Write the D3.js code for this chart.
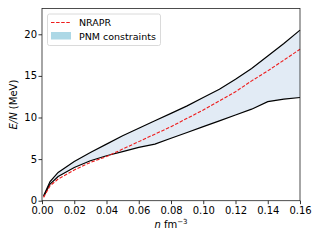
<!DOCTYPE html>
<html>
<head>
<meta charset="utf-8">
<script src="https://cdn.jsdelivr.net/npm/d3@7"></script>
<style>
  body { margin: 0; background: #fff; }
  text { font-family: "DejaVu Sans", sans-serif; }
</style>
</head>
<body>
<div id="chart"></div>
<script>
// density grid (fm^-3) and energies per neutron (MeV)
const density = [0.001, 0.005, 0.01, 0.02, 0.03, 0.04, 0.05, 0.06, 0.07, 0.08, 0.09, 0.10, 0.11, 0.12, 0.13, 0.14, 0.15, 0.16];
const upper = [0.6, 2.3, 3.4, 4.7, 5.8, 6.8, 7.8, 8.7, 9.6, 10.5, 11.4, 12.4, 13.4, 14.6, 15.9, 17.4, 18.9, 20.5];
const lower = [0.5, 2.0, 2.9, 4.0, 4.8, 5.4, 5.9, 6.4, 6.8, 7.5, 8.2, 8.9, 9.6, 10.3, 11.0, 11.9, 12.2, 12.4];
const nrapr = [0.4, 1.8, 2.6, 3.7, 4.6, 5.3, 6.2, 7.1, 8.0, 8.9, 9.9, 10.9, 12.0, 13.1, 14.4, 15.6, 16.9, 18.2];
const xTicks = [0, 0.02, 0.04, 0.06, 0.08, 0.10, 0.12, 0.14, 0.16];
const yTicks = [0, 5, 10, 15, 20];

const W = 320, H = 240;
const M = { left: 42, right: 20, top: 8.5, bottom: 39.3 };

const svg = d3.select('#chart').append('svg')
    .attr('width', W)
    .attr('height', H);

const x = d3.scaleLinear().domain([0, 0.16]).range([M.left, W - M.right]);
const y = d3.scaleLinear().domain([0, 23.1]).range([H - M.bottom, M.top]);

const pts = density.map((n, i) => ({ n: n, lo: lower[i], hi: upper[i], model: nrapr[i] }));

// band between the constraints
svg.append('path')
    .datum(pts)
    .attr('fill', '#e2ebf5')
    .attr('d', d3.area().x(d => x(d.n)).y0(d => y(d.lo)).y1(d => y(d.hi)));

const line = key => d3.line().x(d => x(d.n)).y(d => y(d[key]));

svg.append('path').datum(pts)
    .attr('fill', 'none').attr('stroke', '#000').attr('stroke-width', 1.2)
    .attr('d', line('hi'));
svg.append('path').datum(pts)
    .attr('fill', 'none').attr('stroke', '#000').attr('stroke-width', 1.2)
    .attr('d', line('lo'));
svg.append('path').datum(pts)
    .attr('fill', 'none').attr('stroke', '#ee1c1c').attr('stroke-width', 1.1)
    .attr('stroke-dasharray', '3.5,1.6')
    .attr('d', line('model'));

// axes
const xAxis = svg.append('g')
    .attr('transform', `translate(0,${H - M.bottom})`)
    .call(d3.axisBottom(x).tickValues(xTicks).tickFormat(d3.format('.2f')).tickSizeOuter(0).tickSize(3.5));
const yAxis = svg.append('g')
    .attr('transform', `translate(${M.left},0)`)
    .call(d3.axisLeft(y).tickValues(yTicks).tickSizeOuter(0).tickSize(3.5));

[xAxis, yAxis].forEach(g => {
    g.select('.domain').remove();
    g.selectAll('line').attr('stroke', '#000').attr('stroke-width', 0.8);
    g.selectAll('text').attr('font-size', 10).attr('fill', '#000')
        .style('font-family', '"DejaVu Sans", sans-serif');
});
xAxis.selectAll('text').attr('dy', '0.75em').attr('y', 5.5);
yAxis.selectAll('text').attr('x', -5).attr('dy', '0.3em');

// frame
svg.append('rect')
    .attr('x', M.left).attr('y', M.top)
    .attr('width', W - M.right - M.left).attr('height', H - M.bottom - M.top)
    .attr('fill', 'none').attr('stroke', '#222').attr('stroke-width', 0.8);

// axis labels
const xl = svg.append('text')
    .attr('x', 171).attr('y', 228)
    .attr('text-anchor', 'middle').attr('font-size', 10);
xl.append('tspan').attr('font-style', 'italic').text('n');
xl.append('tspan').text(' fm');
xl.append('tspan').attr('font-size', 7).attr('dy', -4).text('\u22123');

const yl = svg.append('text')
    .attr('transform', `translate(17,${(M.top + H - M.bottom) / 2}) rotate(-90)`)
    .attr('text-anchor', 'middle').attr('font-size', 10);
yl.append('tspan').attr('font-style', 'italic').text('E/N');
yl.append('tspan').text(' (MeV)');

// legend
const lg = svg.append('g');
lg.append('rect')
    .attr('x', 47.5).attr('y', 14).attr('width', 113).attr('height', 31.5).attr('rx', 2)
    .attr('fill', '#fff').attr('fill-opacity', 0.8)
    .attr('stroke', '#d0d0d0').attr('stroke-width', 0.8);
lg.append('line')
    .attr('x1', 51).attr('x2', 71).attr('y1', 22.5).attr('y2', 22.5)
    .attr('stroke', '#ee1c1c').attr('stroke-width', 1.1).attr('stroke-dasharray', '3.5,1.6');
lg.append('rect')
    .attr('x', 51).attr('y', 32).attr('width', 20).attr('height', 7.5)
    .attr('fill', '#add8e6');
lg.append('text').attr('x', 79).attr('y', 26).attr('font-size', 9.5).text('NRAPR');
lg.append('text').attr('x', 79).attr('y', 39.5).attr('font-size', 9.5).text('PNM constraints');
</script>
</body>
</html>
